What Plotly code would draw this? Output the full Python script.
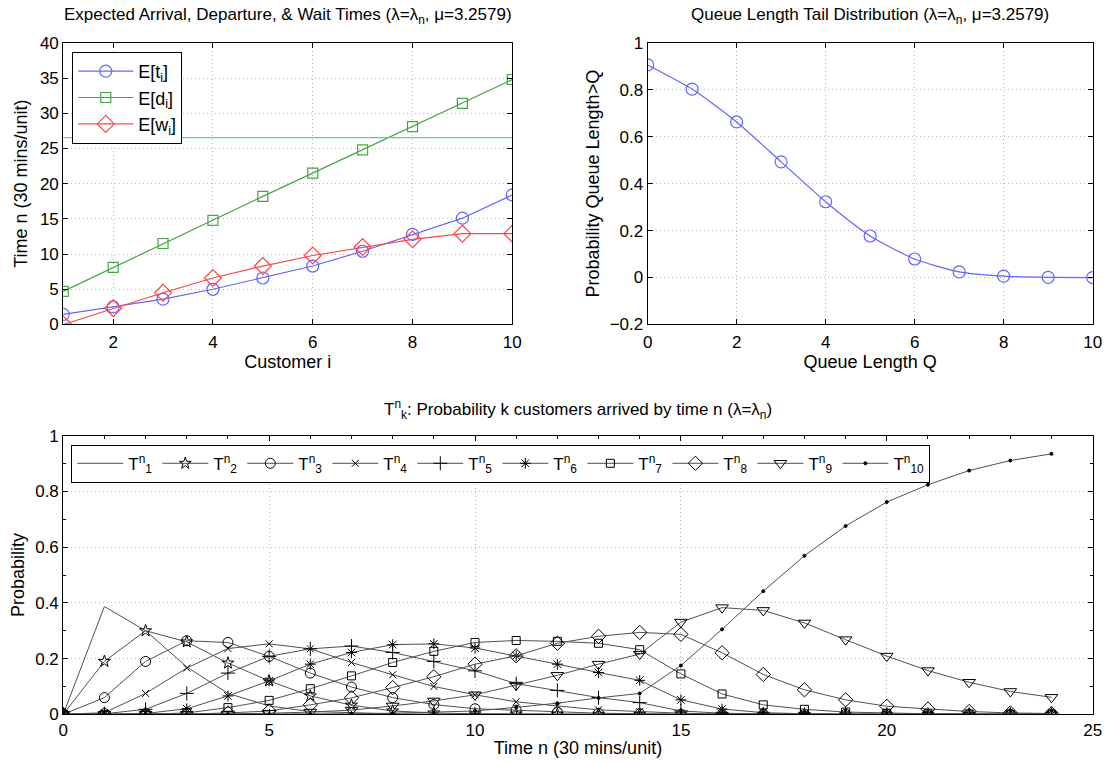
import plotly.graph_objects as go

# ---------------- data ----------------
customers = [1, 2, 3, 4, 5, 6, 7, 8, 9, 10]
E_t = [1.43, 2.5, 3.6, 5.0, 6.6, 8.3, 10.4, 12.8, 15.1, 18.4]
E_d = [4.7, 8.1, 11.5, 14.8, 18.2, 21.5, 24.8, 28.1, 31.4, 34.8]
E_w = [0.0, 2.3, 4.5, 6.6, 8.3, 9.8, 11.0, 12.1, 12.9, 12.9]
horizon = 26.55

queue_Q = [0, 1, 2, 3, 4, 5, 6, 7, 8, 9, 10]
tail_prob = [0.906, 0.803, 0.663, 0.493, 0.323, 0.177, 0.079, 0.024, 0.006, 0.001, 0.0]

time_n = list(range(25))
T1 = [0, .387, .30, .17, .075, .03, .01, .005, .002, .001, 0, 0, 0, 0, 0, 0, 0, 0, 0, 0, 0, 0, 0, 0, 0]
T2 = [0, .19, .30, .26, .184, .12, .066, .033, .012, .005, .002, .001, 0, 0, 0, 0, 0, 0, 0, 0, 0, 0, 0, 0, 0]
T3 = [0, .06, .19, .264, .258, .208, .148, .098, .06, .035, .02, .015, .008, .004, .002, 0, 0, 0, 0, 0, 0, 0, 0, 0, 0]
T4 = [0, .006, .075, .166, .236, .253, .235, .186, .142, .10, .07, .045, .03, .016, .01, .004, .001, 0, 0, 0, 0, 0, 0, 0, 0]
T5 = [0, .002, .018, .075, .148, .208, .235, .245, .222, .19, .156, .11, .086, .06, .042, .012, .004, .001, 0, 0, 0, 0, 0, 0, 0]
T6 = [0, 0, .003, .02, .066, .12, .18, .222, .25, .253, .238, .21, .18, .15, .122, .052, .019, .006, .002, .001, 0, 0, 0, 0, 0]
T7 = [0, 0, 0, .005, .024, .05, .092, .138, .186, .226, .258, .265, .262, .255, .232, .145, .073, .034, .018, .008, .004, .002, .001, 0, 0]
T8 = [0, 0, 0, .001, .005, .012, .034, .059, .096, .135, .18, .21, .255, .28, .294, .287, .221, .143, .088, .052, .029, .019, .01, .005, .003]
T9 = [0, 0, 0, 0, .001, .004, .008, .015, .03, .048, .07, .105, .14, .18, .216, .331, .383, .373, .328, .268, .209, .157, .115, .082, .061]
T10 = [0, 0, 0, 0, 0, 0, .001, .002, .004, .007, .012, .025, .04, .059, .075, .175, .305, .442, .569, .676, .762, .824, .875, .911, .935]
T_series = [T1, T2, T3, T4, T5, T6, T7, T8, T9, T10]
T_names = ["T<sup>n</sup><sub>%d</sub>" % k for k in range(1, 11)]

# ---------------- layout helpers ----------------
W, H = 1105, 763
FONT = "Liberation Sans, Arial, Helvetica, sans-serif"
# calibration from target-picture pixels to page pixels
AX, SX = 4.9, 0.985
AY, SY = 10.2, 0.973


def fx(a):
    return ((a - AX) / SX) / W


def fy(a):
    return 1 - ((a - AY) / SY) / H


def px_x(a, b):
    return [fx(a), fx(b)]


def px_y(top, bottom):
    return [fy(bottom), fy(top)]


fig = go.Figure()

blue = "rgb(100,100,255)"
green = "rgb(70,165,70)"
red = "rgb(255,70,70)"
cyan = "rgb(70,205,205)"

# top-left
fig.add_trace(go.Scatter(x=customers, y=E_t, mode="lines+markers", name="E[t<sub>i</sub>]",
                         line=dict(color=blue, width=1.2),
                         marker=dict(symbol="circle-open", size=12, color=blue, line=dict(width=1.2)),
                         xaxis="x", yaxis="y", legend="legend"))
fig.add_trace(go.Scatter(x=customers, y=E_d, mode="lines+markers", name="E[d<sub>i</sub>]",
                         line=dict(color=green, width=1.2),
                         marker=dict(symbol="square-open", size=10, color=green, line=dict(width=1.2)),
                         xaxis="x", yaxis="y", legend="legend"))
fig.add_trace(go.Scatter(x=customers, y=E_w, mode="lines+markers", name="E[w<sub>i</sub>]",
                         line=dict(color=red, width=1.2),
                         marker=dict(symbol="diamond-open", size=13, color=red, line=dict(width=1.2)),
                         xaxis="x", yaxis="y", legend="legend"))
fig.add_trace(go.Scatter(x=[customers[0], customers[-1]], y=[horizon, horizon], mode="lines",
                         line=dict(color=cyan, width=1.2), showlegend=False,
                         xaxis="x", yaxis="y"))

# top-right
fig.add_trace(go.Scatter(x=queue_Q, y=tail_prob, mode="lines+markers",
                         line=dict(color=blue, width=1.2, shape="spline", smoothing=0.6),
                         marker=dict(symbol="circle-open", size=12, color=blue, line=dict(width=1.2)),
                         showlegend=False, xaxis="x2", yaxis="y2"))

# bottom
symbols = [None, "star-open", "circle-open", "x-thin-open", "cross-thin-open", "asterisk-open",
           "square-open", "diamond-open", "triangle-down-open", "circle"]
sizes = [0, 9, 10, 7, 10, 9, 8, 11, 11, 3]
dark = "rgb(80,80,80)"
for k in range(10):
    if symbols[k] is None:
        mode = "lines"
        mk = None
    else:
        mode = "lines+markers"
        mk = dict(symbol=symbols[k], size=sizes[k], color="black",
                  line=dict(width=1, color="black"))
    fig.add_trace(go.Scatter(x=time_n, y=T_series[k], mode=mode, name=T_names[k],
                             line=dict(color=dark, width=1), marker=mk,
                             xaxis="x3", yaxis="y3", legend="legend2"))

axis_common = dict(showline=True, linecolor="black", linewidth=1, mirror="ticks",
                   ticks="inside", ticklen=5, tickcolor="black",
                   showgrid=True, gridcolor="rgb(185,185,185)", griddash="1px,3px", gridwidth=1,
                   zeroline=False, tickfont=dict(family=FONT, size=17, color="black"),
                   title_font=dict(family=FONT, size=18, color="black"))

TL = (63, 511)
TR = (646, 1090)
TOPY = (44, 325)
BOT = (436, 714)

fig.update_layout(
    width=W, height=H, margin=dict(l=0, r=0, t=0, b=0),
    paper_bgcolor="white", plot_bgcolor="white",
    font=dict(family=FONT, color="black"),
    xaxis=dict(domain=px_x(*TL), range=[1, 10], tickvals=[2, 4, 6, 8, 10], ticklabelstandoff=2,
               title=dict(text="Customer i", standoff=3), anchor="y", **axis_common),
    yaxis=dict(domain=px_y(*TOPY), range=[0, 40], dtick=5,
               title=dict(text="Time n (30 mins/unit)", standoff=7), anchor="x", **axis_common),
    xaxis2=dict(domain=px_x(*TR), range=[0, 10], dtick=2, ticklabelstandoff=2,
                title=dict(text="Queue Length Q", standoff=3), anchor="y2", **axis_common),
    yaxis2=dict(domain=px_y(*TOPY), range=[-0.2, 1], dtick=0.2, tickformat="~g",
                title=dict(text="Probability Queue Length>Q", standoff=5), anchor="x2", **axis_common),
    xaxis3=dict(domain=px_x(TL[0], TR[1]), range=[0, 25], dtick=5, ticklabelstandoff=0,
                minor=dict(dtick=1, ticks="inside", ticklen=3, tickcolor="black", showgrid=False),
                title=dict(text="Time n (30 mins/unit)", standoff=2), anchor="y3", **axis_common),
    yaxis3=dict(domain=px_y(*BOT), range=[0, 1], dtick=0.2, tickformat="~g",
                minor=dict(dtick=0.1, ticks="inside", ticklen=3, tickcolor="black", showgrid=False),
                title=dict(text="Probability", standoff=5), anchor="x3", **axis_common),
    legend=dict(x=fx(72), y=fy(53), xanchor="left", yanchor="top",
                bgcolor="white", bordercolor="black", borderwidth=1,
                font=dict(family=FONT, size=18, color="black"), itemwidth=55, tracegroupgap=0),
    legend2=dict(x=fx(71), y=fy(445), xanchor="left", yanchor="top", orientation="h",
                 bgcolor="white", bordercolor="black", borderwidth=1, itemwidth=46,
                 font=dict(family=FONT, size=17, color="black")),
    annotations=[
        dict(text="Expected Arrival, Departure, & Wait Times (λ=λ<sub>n</sub>, μ=3.2579)",
             x=fx((TL[0] + TL[1]) / 2), y=fy(17), xref="paper", yref="paper", showarrow=False,
             xanchor="center", yanchor="middle", font=dict(family=FONT, size=17, color="black")),
        dict(text="Queue Length Tail Distribution (λ=λ<sub>n</sub>, μ=3.2579)",
             x=fx((TR[0] + TR[1]) / 2), y=fy(17), xref="paper", yref="paper", showarrow=False,
             xanchor="center", yanchor="middle", font=dict(family=FONT, size=17, color="black")),
        dict(text="T<sup>n</sup><sub>k</sub>: Probability k customers arrived by time n (λ=λ<sub>n</sub>)",
             x=fx((TL[0] + TR[1]) / 2), y=fy(410), xref="paper", yref="paper", showarrow=False,
             xanchor="center", yanchor="middle", font=dict(family=FONT, size=17, color="black")),
    ],
)

fig.write_html("out.html", config={"displayModeBar": False},
               post_script="document.body.style.margin='0';document.body.style.padding='0';")
